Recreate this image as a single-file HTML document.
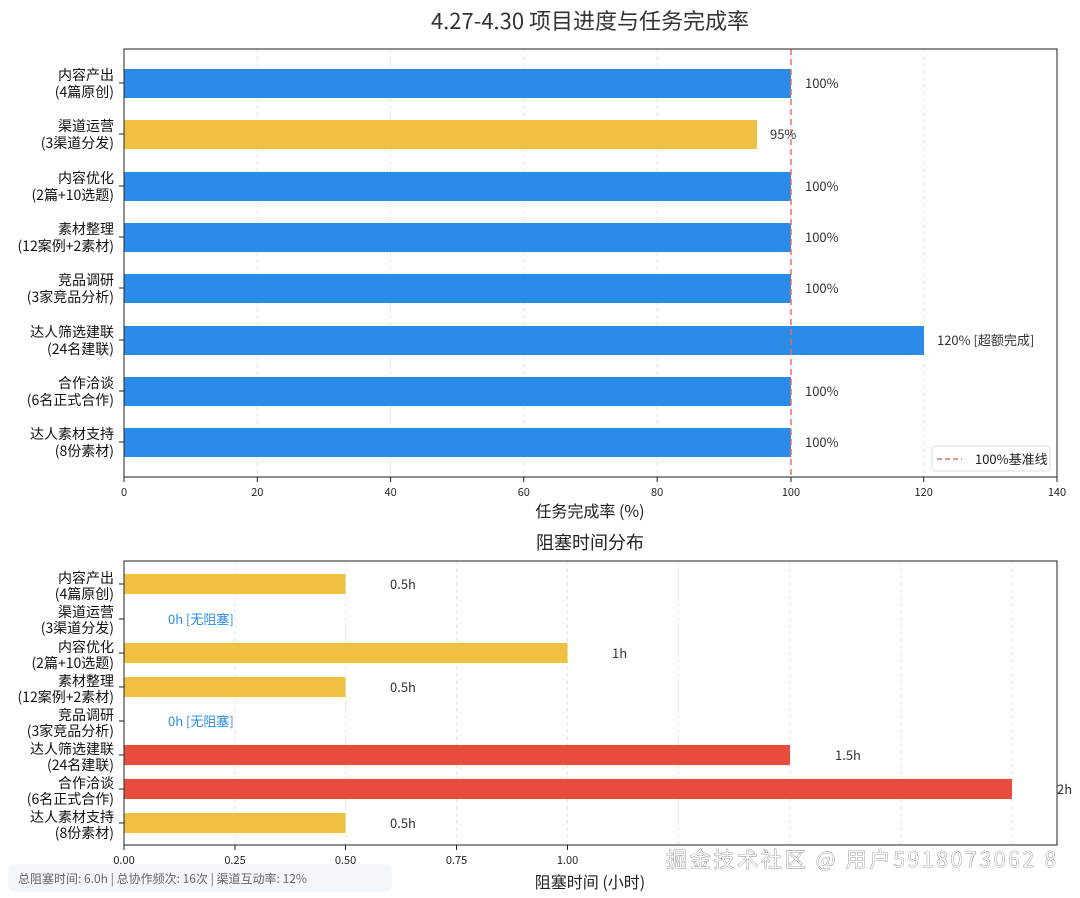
<!DOCTYPE html>
<html><head><meta charset="utf-8"><style>
body{margin:0;background:#fff;}
svg{display:block;font-family:"Noto Sans CJK SC","Liberation Sans",sans-serif;}
</style></head><body>
<svg width="1080" height="898" xmlns="http://www.w3.org/2000/svg">
<rect width="1080" height="898" fill="#fff"/>
<text x="590" y="29" font-size="22" text-anchor="middle" fill="#333">4.27-4.30 项目进度与任务完成率</text>
<g stroke="#e6e6e6" stroke-dasharray="4,3" stroke-width="1">
<line x1="257.3" y1="49" x2="257.3" y2="477"/><line x1="390.6" y1="49" x2="390.6" y2="477"/><line x1="523.8" y1="49" x2="523.8" y2="477"/><line x1="657.1" y1="49" x2="657.1" y2="477"/><line x1="923.7" y1="49" x2="923.7" y2="477"/>
</g>
<g>
<rect x="124" y="69" width="667" height="29" fill="#2b8be8"/>
<rect x="124" y="120" width="633" height="29" fill="#f0c040"/>
<rect x="124" y="172" width="667" height="29" fill="#2b8be8"/>
<rect x="124" y="223" width="667" height="29" fill="#2b8be8"/>
<rect x="124" y="274" width="667" height="29" fill="#2b8be8"/>
<rect x="124" y="326" width="800" height="29" fill="#2b8be8"/>
<rect x="124" y="377" width="667" height="29" fill="#2b8be8"/>
<rect x="124" y="428" width="667" height="29" fill="#2b8be8"/>
</g>
<line x1="791" y1="49" x2="791" y2="477" stroke="#e87060" stroke-width="1.5" stroke-dasharray="6,4"/>
<rect x="124" y="49" width="933" height="428" fill="none" stroke="#222" stroke-width="1"/>
<g font-size="13" fill="#333">
<text x="805" y="88">100%</text><text x="770" y="139">95%</text><text x="805" y="191">100%</text><text x="805" y="242">100%</text><text x="805" y="293">100%</text><text x="937" y="345">120% [超额完成]</text><text x="805" y="396">100%</text><text x="805" y="447">100%</text>
</g>
<g font-size="14" fill="#111" text-anchor="end">
<text x="114" y="80">内容产出</text><text x="114" y="97">(4篇原创)</text>
<text x="114" y="131">渠道运营</text><text x="114" y="148">(3渠道分发)</text>
<text x="114" y="183">内容优化</text><text x="114" y="200">(2篇+10选题)</text>
<text x="114" y="234">素材整理</text><text x="114" y="251">(12案例+2素材)</text>
<text x="114" y="285">竞品调研</text><text x="114" y="302">(3家竞品分析)</text>
<text x="114" y="337">达人筛选建联</text><text x="114" y="354">(24名建联)</text>
<text x="114" y="388">合作洽谈</text><text x="114" y="405">(6名正式合作)</text>
<text x="114" y="439">达人素材支持</text><text x="114" y="456">(8份素材)</text>
</g>
<g stroke="#222"><line x1="119" y1="83" x2="124" y2="83"/><line x1="119" y1="134" x2="124" y2="134"/><line x1="119" y1="186" x2="124" y2="186"/><line x1="119" y1="237" x2="124" y2="237"/><line x1="119" y1="288" x2="124" y2="288"/><line x1="119" y1="340" x2="124" y2="340"/><line x1="119" y1="391" x2="124" y2="391"/><line x1="119" y1="442" x2="124" y2="442"/>
<line x1="124" y1="477" x2="124" y2="482"/><line x1="257.3" y1="477" x2="257.3" y2="482"/><line x1="390.6" y1="477" x2="390.6" y2="482"/><line x1="523.8" y1="477" x2="523.8" y2="482"/><line x1="657.1" y1="477" x2="657.1" y2="482"/><line x1="791" y1="477" x2="791" y2="482"/><line x1="923.7" y1="477" x2="923.7" y2="482"/><line x1="1057" y1="477" x2="1057" y2="482"/></g>
<g font-size="11" fill="#222" text-anchor="middle">
<text x="124" y="496">0</text><text x="257.3" y="496">20</text><text x="390.6" y="496">40</text><text x="523.8" y="496">60</text><text x="657.1" y="496">80</text><text x="791" y="496">100</text><text x="923.7" y="496">120</text><text x="1057" y="496">140</text>
</g>
<text x="590" y="517" font-size="16" text-anchor="middle" fill="#222">任务完成率 (%)</text>
<rect x="932" y="446" width="118" height="25" rx="3" fill="#fff" stroke="#ddd"/>
<line x1="937" y1="459" x2="962" y2="459" stroke="#e87060" stroke-width="1.5" stroke-dasharray="5,3"/>
<text x="975" y="464" font-size="13" fill="#222">100%基准线</text>

<text x="590" y="549" font-size="18" text-anchor="middle" fill="#222">阻塞时间分布</text>
<g stroke="#e6e6e6" stroke-dasharray="4,3">
<line x1="235" y1="561" x2="235" y2="845"/><line x1="345.5" y1="561" x2="345.5" y2="845"/><line x1="456.5" y1="561" x2="456.5" y2="845"/><line x1="567.5" y1="561" x2="567.5" y2="845"/><line x1="678.5" y1="561" x2="678.5" y2="845"/><line x1="790" y1="561" x2="790" y2="845"/><line x1="901" y1="561" x2="901" y2="845"/><line x1="1012" y1="561" x2="1012" y2="845"/>
</g>
<rect x="124" y="574" width="221.5" height="20" fill="#f0c040"/>
<rect x="124" y="643" width="443.5" height="20" fill="#f0c040"/>
<rect x="124" y="677" width="221.5" height="20" fill="#f0c040"/>
<rect x="124" y="745" width="666" height="20" fill="#e84c3d"/>
<rect x="124" y="779" width="888" height="20" fill="#e84c3d"/>
<rect x="124" y="813" width="221.5" height="20" fill="#f0c040"/>
<rect x="124" y="561" width="933" height="284" fill="none" stroke="#222"/>
<g font-size="13" fill="#333">
<text x="390" y="589">0.5h</text><text x="612" y="658">1h</text><text x="390" y="692">0.5h</text><text x="835" y="760">1.5h</text><text x="1057" y="794">2h</text><text x="390" y="828">0.5h</text>
</g>
<g font-size="13" fill="#2b8be8"><text x="168" y="624">0h [无阻塞]</text><text x="168" y="726">0h [无阻塞]</text></g>
<g font-size="14" fill="#111" text-anchor="end">
<text x="114" y="583">内容产出</text><text x="114" y="599">(4篇原创)</text>
<text x="114" y="617">渠道运营</text><text x="114" y="633">(3渠道分发)</text>
<text x="114" y="652">内容优化</text><text x="114" y="668">(2篇+10选题)</text>
<text x="114" y="686">素材整理</text><text x="114" y="702">(12案例+2素材)</text>
<text x="114" y="720">竞品调研</text><text x="114" y="736">(3家竞品分析)</text>
<text x="114" y="754">达人筛选建联</text><text x="114" y="770">(24名建联)</text>
<text x="114" y="788">合作洽谈</text><text x="114" y="804">(6名正式合作)</text>
<text x="114" y="822">达人素材支持</text><text x="114" y="838">(8份素材)</text>
</g>
<g stroke="#222"><line x1="119" y1="584" x2="124" y2="584"/><line x1="119" y1="619" x2="124" y2="619"/><line x1="119" y1="653" x2="124" y2="653"/><line x1="119" y1="687" x2="124" y2="687"/><line x1="119" y1="721" x2="124" y2="721"/><line x1="119" y1="755" x2="124" y2="755"/><line x1="119" y1="789" x2="124" y2="789"/><line x1="119" y1="823" x2="124" y2="823"/>
<line x1="124" y1="845" x2="124" y2="850"/><line x1="235" y1="845" x2="235" y2="850"/><line x1="345.5" y1="845" x2="345.5" y2="850"/><line x1="456.5" y1="845" x2="456.5" y2="850"/><line x1="567.5" y1="845" x2="567.5" y2="850"/></g>
<g font-size="11" fill="#222" text-anchor="middle">
<text x="124" y="864">0.00</text><text x="235" y="864">0.25</text><text x="345.5" y="864">0.50</text><text x="456.5" y="864">0.75</text><text x="567.5" y="864">1.00</text>
</g>
<rect x="8" y="864" width="384" height="28" rx="7" fill="#f3f7fc"/>
<text x="18" y="883" font-size="12" fill="#666">总阻塞时间: 6.0h | 总协作频次: 16次 | 渠道互动率: 12%</text>
<text x="590" y="888" font-size="16" text-anchor="middle" fill="#222">阻塞时间 (小时)</text>
<text x="666" y="867" font-size="21" fill="#fff" stroke="#555" stroke-width="0.6" paint-order="stroke" textLength="390">掘金技术社区 @ 用户5918073062 8</text>
</svg>
</body></html>
